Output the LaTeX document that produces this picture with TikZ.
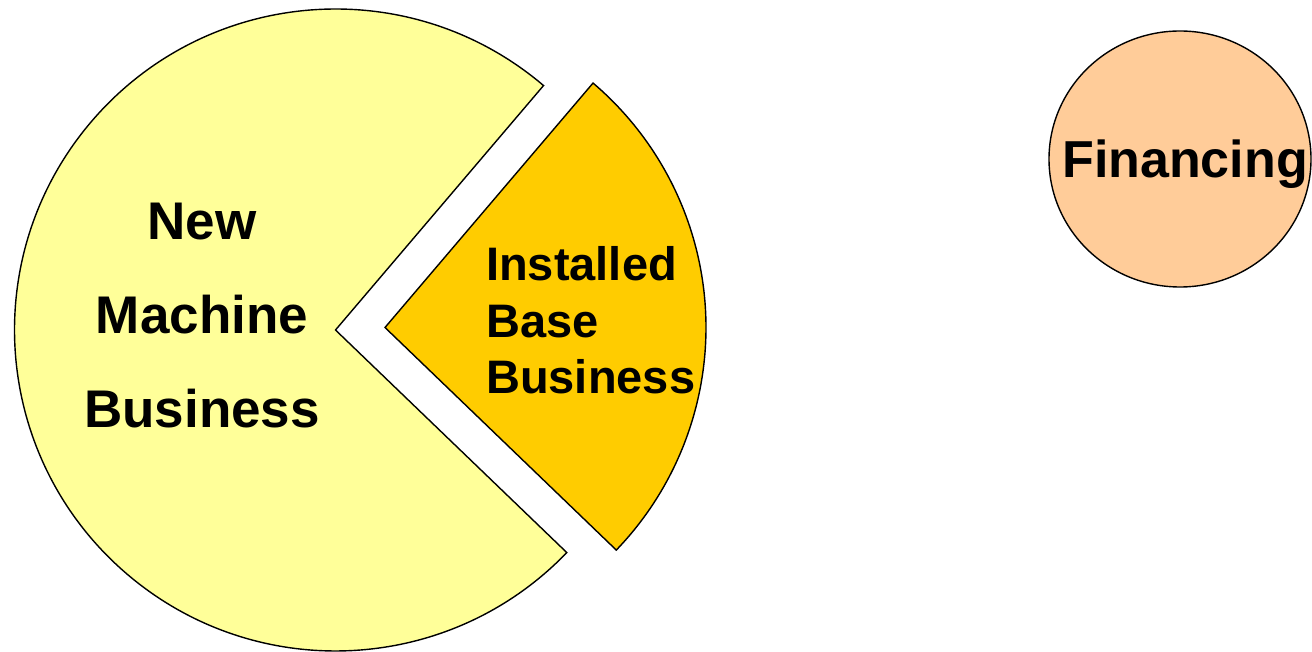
\documentclass[tikz,border=0pt]{standalone}
\usepackage{fontspec}
\setmainfont{Liberation Sans}
\definecolor{pieyellow}{HTML}{FFFF99}
\definecolor{pieorange}{HTML}{FFCC00}
\definecolor{finpeach}{HTML}{FFCC99}
\begin{document}
\begin{tikzpicture}[x=1pt,y=1pt,
  slice/.style={draw=black,line width=1.4pt,line join=miter},
  lbl/.style={inner sep=0pt,font=\bfseries}]
\useasboundingbox (0,0) rectangle (1312,651);
% big slice
\coordinate (yc) at (335.5,321);
\draw[slice,fill=pieyellow] (yc) -- ++(49.6:321) arc[start angle=49.6,end angle=316.1,radius=321] -- cycle;
% exploded slice
\coordinate (oc) at (385,323.5);
\draw[slice,fill=pieorange] (oc) -- ++(-43.9:321) arc[start angle=-43.9,end angle=49.6,radius=321] -- cycle;
% financing
\coordinate (fc) at (1180,492);
\draw[slice,fill=finpeach] (fc) ellipse[x radius=131,y radius=128];
% labels
\node[lbl,align=center,font=\bfseries\fontsize{53}{94}\selectfont] (nmb) at (202,335) {New\\Machine\\Business};
\node[lbl,align=left,anchor=west,font=\bfseries\fontsize{47}{56.5}\selectfont] (ibb) at (486,330.5) {Installed\\Base\\Business};
\node[lbl,anchor=base,font=\bfseries\fontsize{52}{60}\selectfont] (fin) at (1185,473) {Financing};
\end{tikzpicture}
\end{document}
